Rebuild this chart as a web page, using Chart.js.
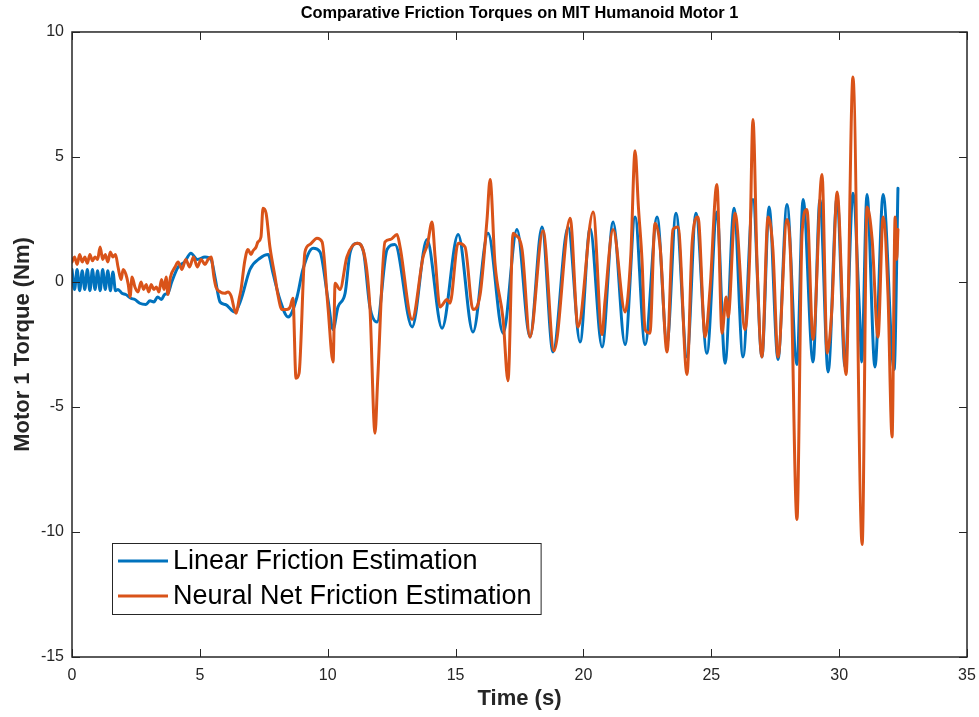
<!DOCTYPE html>
<html><head><meta charset="utf-8">
<script src="https://cdn.jsdelivr.net/npm/chart.js@4"></script>
<style>html,body{margin:0;padding:0;background:#fff;}</style>
</head><body>
<canvas id="c" width="979" height="717"></canvas>
<script>
const chartTitle = "Comparative Friction Torques on MIT Humanoid Motor 1";
const xLabel = "Time (s)";
const yLabel = "Motor 1 Torque (Nm)";
const seriesNames = ["Linear Friction Estimation", "Neural Net Friction Estimation"];
const seriesColors = ["#0072BD", "#D95319"];
const xTicks = [0, 5, 10, 15, 20, 25, 30, 35];
const yTicks = [-15, -10, -5, 0, 5, 10];

const linearTime = [
 0,0.1,0.2,0.3,0.4,0.5,0.6,0.7,0.8,0.9,
 1.0,1.1,1.2,1.3,1.4,1.5,1.6,1.7,1.8,1.95,
 2.1,2.3,2.46,2.65,2.89,3.05,3.2,3.35,3.5,3.62,
 3.75,3.9,4.15,4.4,4.65,4.9,5.2,5.44,
 5.59,5.79,6.0,6.37,6.61,6.96,7.35,7.67,7.86,8.13,
 8.45,8.80,9.03,9.43,9.70,10.01,10.21,10.40,10.68,10.87,
 11.15,11.40,11.65,11.93,12.32,12.63,13.30,13.88,14.47,15.10,
 15.68,16.27,16.86,17.40,17.91,18.38,18.81,19.40,19.87,20.26,
 20.73,21.16,21.63,22.02,22.41,22.88,23.27,23.62,24.05,24.40,
 24.83,25.22,25.54,25.89,26.24,26.63,26.98,27.26,27.61,27.96,
 28.35,28.59,28.98,29.25,29.57,29.92,30.23,30.54,30.80,30.88,
 31.09,31.40,31.72,32.15,32.30];
const linearTorque = [
 0.5,-0.3,0.5,-0.35,0.45,-0.3,0.5,-0.35,0.5,-0.3,
 0.45,-0.35,0.5,-0.3,0.45,-0.35,0.4,-0.35,-0.3,-0.45,
 -0.5,-0.65,-0.7,-0.85,-0.9,-0.75,-0.8,-0.6,-0.7,-0.5,
 -0.45,0.0,0.6,0.8,1.15,0.9,1.0,0.9,
 0.2,-0.8,-0.9,-1.2,-0.7,0.5,0.95,1.1,0.35,-0.7,
 -1.4,-0.6,0.5,1.35,1.2,-0.7,-1.9,-1.0,-0.45,1.15,
 1.55,1.2,-1.0,-1.6,1.3,1.5,-1.8,1.7,-1.85,1.9,
 -2.0,1.95,-2.05,2.1,-2.2,2.2,-2.8,2.2,-2.4,2.15,
 -2.6,2.4,-2.5,2.6,-2.5,2.6,-2.45,2.75,-3.0,2.75,
 -2.85,2.8,-3.25,2.95,-3.0,3.3,-3.0,3.0,-3.1,3.1,
 -3.3,3.3,-3.2,3.3,-3.6,3.4,-3.4,3.55,-1.3,-3.2,
 3.5,-3.4,3.5,-3.5,3.75];

const neuralTime = [
 0,0.1,0.2,0.3,0.4,0.5,0.6,0.7,0.8,0.9,
 1.0,1.1,1.2,1.3,1.4,1.5,1.6,1.7,1.8,1.92,
 2.0,2.11,2.2,2.27,2.35,2.46,2.58,2.7,2.8,2.9,
 3.0,3.1,3.2,3.3,3.4,3.5,3.6,3.68,3.75,3.85,
 4.03,4.15,4.3,4.45,4.6,4.75,4.9,5.05,5.2,5.32,
 5.44,5.55,5.63,5.8,5.98,6.1,6.22,6.41,6.55,6.61,
 6.75,6.88,7.0,7.08,7.2,7.27,7.39,7.47,7.59,7.74,
 7.94,8.05,8.21,8.4,8.53,8.64,8.76,8.88,9.11,9.3,
 9.58,9.78,10.01,10.21,10.29,10.48,10.75,11.15,11.38,11.65,
 11.85,11.95,12.24,12.45,12.71,12.83,13.30,13.73,13.9,14.08,
 14.2,14.39,14.67,14.78,15.10,15.37,15.68,15.96,16.23,16.35,
 16.54,16.86,17.05,17.25,17.32,17.60,17.91,18.42,18.85,19.48,
 19.79,20.38,20.73,20.84,21.16,21.63,21.85,22.02,22.15,22.29,
 22.41,22.60,22.80,23.00,23.27,23.50,23.70,24.05,24.25,24.48,
 24.76,24.95,25.22,25.42,25.58,25.66,25.93,26.32,26.50,26.63,
 26.79,26.98,27.22,27.41,27.61,27.96,28.10,28.35,28.55,28.74,
 28.98,29.33,29.53,29.72,29.92,30.27,30.54,30.90,31.09,31.29,
 31.52,31.72,31.91,32.07,32.19,32.25,32.30];
const neuralTorque = [
 0.8,1.0,0.7,1.1,0.8,1.0,0.75,1.1,0.85,1.0,
 0.9,1.4,0.9,1.1,0.8,1.2,1.0,1.1,0.6,0.1,
 0.5,0.3,-0.1,-0.6,0.2,-0.2,-0.4,0.0,-0.3,-0.1,
 -0.4,-0.1,-0.3,-0.2,-0.4,0.1,-0.3,0.2,-0.5,0.2,
 0.6,0.8,0.5,0.9,0.6,1.0,0.6,0.9,0.7,0.9,
 1.0,0.2,-0.2,-0.4,-0.45,-0.4,-0.55,-1.25,-0.6,-0.3,
 0.8,1.3,1.1,1.25,1.4,1.6,1.8,2.95,2.75,1.4,
 0.2,-0.5,-1.1,-1.1,-1.0,-0.65,-3.85,-3.65,1.2,1.5,
 1.75,1.6,-1.0,-3.2,-0.05,-0.3,1.0,1.55,1.3,-1.0,
 -6.05,-4.0,1.6,1.7,1.9,1.4,-1.5,1.0,1.5,2.4,
 1.0,-1.0,-0.7,-0.85,1.55,1.4,-1.1,-0.5,2.5,4.1,
 0.75,-1.5,-3.95,1.95,1.9,1.3,-2.2,2.05,-2.75,2.55,
 -1.8,2.8,-2.1,-0.8,2.1,-1.2,1.0,5.25,3.0,0.9,
 -1.9,-2.05,2.35,1.4,-2.8,2.1,2.2,-3.7,1.55,2.6,
 -2.2,-0.3,3.9,-2.05,-0.6,-1.4,2.75,-1.9,1.0,6.5,
 0.75,-3.0,2.6,1.3,-3.0,2.5,1.0,-9.5,1.95,2.9,
 -2.3,4.3,-2.85,-1.0,3.6,-3.7,8.2,-10.5,3.0,1.7,
 -2.2,2.6,-0.5,-6.2,2.6,0.9,2.1];

const FONT = "'Liberation Sans', Arial, Helvetica, sans-serif";
const AXIS_COLOR = "#262626";

const boxPlugin = {
  id: 'matlabBox',
  afterDatasetsDraw(chart) {
    const {ctx, chartArea: a, scales: {x, y}} = chart;
    ctx.save();
    ctx.strokeStyle = AXIS_COLOR;
    ctx.lineWidth = 1;
    const L = 8;
    ctx.beginPath();
    xTicks.forEach(v => {
      const px = Math.round(x.getPixelForValue(v)) + 0.5;
      ctx.moveTo(px, a.bottom); ctx.lineTo(px, a.bottom - L);
      ctx.moveTo(px, a.top); ctx.lineTo(px, a.top + L);
    });
    yTicks.forEach(v => {
      const py = Math.round(y.getPixelForValue(v)) + 0.5;
      ctx.moveTo(a.left, py); ctx.lineTo(a.left + L, py);
      ctx.moveTo(a.right, py); ctx.lineTo(a.right - L, py);
    });
    ctx.stroke();
    ctx.lineWidth = 1.5;
    ctx.strokeRect(a.left, a.top, a.right - a.left, a.bottom - a.top);
    ctx.restore();
  }
};

const legendPlugin = {
  id: 'insideLegend',
  afterDraw(chart) {
    const {ctx, chartArea: a} = chart;
    const ds = chart.data.datasets;
    ctx.save();
    ctx.font = "27px " + FONT;
    const tw = Math.max(...ds.map(d => ctx.measureText(d.label).width));
    const left = a.left + 40, rowH = 35, h = 71;
    const top = a.bottom - 43 - h;
    const w = 6 + 50 + 5 + tw + 9;
    ctx.fillStyle = '#fff';
    ctx.fillRect(left, top, w, h);
    ctx.strokeStyle = AXIS_COLOR;
    ctx.lineWidth = 1;
    ctx.strokeRect(left + 0.5, top + 0.5, w, h);
    ds.forEach((d, i) => {
      const cy = top + 18 + i * rowH;
      ctx.strokeStyle = d.borderColor;
      ctx.lineWidth = 3;
      ctx.beginPath();
      ctx.moveTo(left + 6, cy); ctx.lineTo(left + 56, cy);
      ctx.stroke();
      ctx.fillStyle = '#000';
      ctx.textBaseline = 'middle';
      ctx.textAlign = 'left';
      ctx.fillText(d.label, left + 61, cy + 1);
    });
    ctx.restore();
  }
};

const tickFont = {family: FONT, size: 16};

new Chart(document.getElementById('c'), {
  type: 'line',
  data: {
    datasets: [
      {label: seriesNames[0], data: linearTime.map((t, i) => ({x: t, y: linearTorque[i]})),
       borderColor: seriesColors[0], backgroundColor: seriesColors[0], order: 2},
      {label: seriesNames[1], data: neuralTime.map((t, i) => ({x: t, y: neuralTorque[i]})),
       borderColor: seriesColors[1], backgroundColor: seriesColors[1], order: 1}
    ]
  },
  options: {
    responsive: false,
    animation: false,
    devicePixelRatio: 1,
    layout: {padding: {left: 0, right: 12, top: 0, bottom: 0}},
    elements: {
      point: {radius: 0},
      line: {borderWidth: 3, cubicInterpolationMode: 'monotone', borderJoinStyle: 'round', borderCapStyle: 'round'}
    },
    plugins: {
      legend: {display: false},
      tooltip: {enabled: false},
      title: {display: true, text: chartTitle, fullSize: false, color: '#000',
              font: {family: FONT, size: 16.4, weight: 'bold'}, padding: {top: 4, bottom: 8.3}}
    },
    scales: {
      x: {
        type: 'linear', min: 0, max: 35,
        afterBuildTicks: s => { s.ticks = xTicks.map(v => ({value: v})); },
        afterFit: s => { s.height = 60; s.paddingLeft = 0; s.paddingRight = 0; },
        grid: {display: false, drawTicks: false},
        border: {display: false},
        ticks: {padding: 9, font: tickFont, color: AXIS_COLOR, maxRotation: 0, autoSkip: false},
        title: {display: true, text: xLabel, color: AXIS_COLOR,
                font: {family: FONT, size: 22, weight: 'bold'}, padding: {top: 0, bottom: 5}}
      },
      y: {
        type: 'linear', min: -15, max: 10,
        afterBuildTicks: s => { s.ticks = yTicks.map(v => ({value: v})); },
        afterFit: s => { s.width = 72; s.paddingTop = 0; s.paddingBottom = 0; },
        grid: {display: false, drawTicks: false},
        border: {display: false},
        ticks: {padding: 8, font: tickFont, color: AXIS_COLOR, autoSkip: false},
        title: {display: true, text: yLabel, color: AXIS_COLOR,
                font: {family: FONT, size: 22, weight: 'bold'}, padding: {top: 10, bottom: 0}}
      }
    }
  },
  plugins: [boxPlugin, legendPlugin]
});
</script>
</body></html>
